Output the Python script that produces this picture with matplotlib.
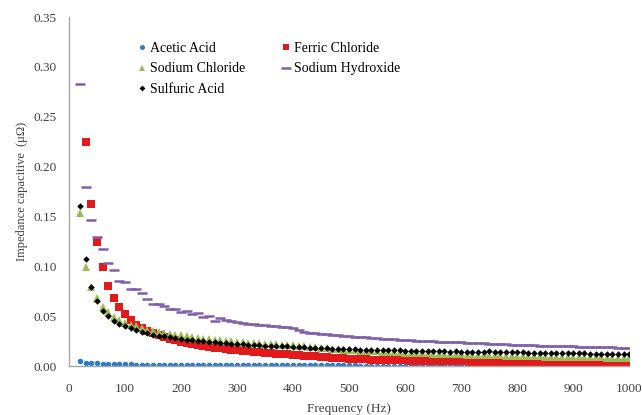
import numpy as np
import matplotlib.pyplot as plt

plt.rcParams['font.family'] = ['Liberation Serif', 'DejaVu Serif']

# frequency (Hz), 20..1000 every 10 Hz
freq = np.arange(20, 1001, 10)
freq_fc = np.arange(30, 1001, 10)  # ferric chloride starts at 30 Hz

acetic = [0.005, 0.003, 0.003, 0.003, 0.002, 0.002, 0.002, 0.0025, 0.0025, 0.0025,
          0.001, 0.001, 0.001, 0.001, 0.001, 0.001, 0.001, 0.001, 0.001, 0.001,
          0.001, 0.001, 0.001, 0.001, 0.001, 0.001, 0.001, 0.001, 0.001, 0.001,
          0.001, 0.001, 0.001, 0.001, 0.001, 0.001, 0.001, 0.001, 0.001, 0.001,
          0.001, 0.001, 0.001, 0.001, 0.001, 0.001, 0.001, 0.001, 0.001, 0.001,
          0.0005, 0.0005, 0.0005, 0.0005, 0.0005, 0.0005, 0.0005, 0.0005, 0.0005, 0.0005,
          0.0005, 0.0005, 0.0005, 0.0005, 0.0005, 0.0005, 0.0005, 0.0005, 0.0005, 0.0005,
          0.0005, 0.0005, 0.0005, 0.0005, 0.0005, 0.0005, 0.0005, 0.0005, 0.0005, 0.0005,
          0.0005, 0.0005, 0.0005, 0.0005, 0.0005, 0.0005, 0.0005, 0.0005, 0.0005, 0.0005,
          0.0005, 0.0005, 0.0005, 0.0005, 0.0005, 0.0005, 0.0005, 0.0005, 0.0005]

ferric = [0.225, 0.162, 0.124, 0.099, 0.080, 0.068, 0.059, 0.052, 0.046, 0.041,
          0.038, 0.035, 0.033, 0.031, 0.029, 0.027, 0.026, 0.024, 0.023, 0.022,
          0.021, 0.020, 0.019, 0.018, 0.018, 0.017, 0.016, 0.016, 0.015, 0.015,
          0.014, 0.014, 0.013, 0.013, 0.012, 0.012, 0.012, 0.011, 0.011, 0.010,
          0.010, 0.010, 0.009, 0.009, 0.008, 0.008, 0.008, 0.0075, 0.0072, 0.007,
          0.007, 0.0065, 0.0063, 0.006, 0.006, 0.006, 0.0058, 0.0056, 0.0055, 0.0055,
          0.0053, 0.0052, 0.005, 0.005, 0.005, 0.0049, 0.0048, 0.0047, 0.0046, 0.0045,
          0.0045, 0.0044, 0.0043, 0.0042, 0.0042, 0.0041, 0.004, 0.004, 0.004, 0.0039,
          0.0038, 0.0038, 0.0037, 0.0036, 0.0036, 0.0035, 0.0035, 0.0034, 0.0034, 0.0033,
          0.0033, 0.0032, 0.0032, 0.0031, 0.0031, 0.003, 0.003, 0.003]

sodium_chloride = [0.153, 0.099, 0.079, 0.068, 0.059, 0.054, 0.049, 0.046, 0.043, 0.041,
                   0.040, 0.038, 0.036, 0.035, 0.034, 0.033, 0.032, 0.031, 0.031, 0.030,
                   0.029, 0.028, 0.027, 0.027, 0.026, 0.026, 0.025, 0.025, 0.024, 0.024,
                   0.023, 0.023, 0.023, 0.022, 0.022, 0.022, 0.021, 0.021, 0.021, 0.020,
                   0.020, 0.019, 0.019, 0.018, 0.018, 0.017, 0.017, 0.016, 0.016, 0.016,
                   0.015, 0.015, 0.015, 0.015, 0.014, 0.014, 0.014, 0.014, 0.013, 0.013,
                   0.013, 0.013, 0.013, 0.012, 0.012, 0.012, 0.012, 0.012, 0.012, 0.011,
                   0.011, 0.011, 0.011, 0.011, 0.011, 0.011, 0.010, 0.010, 0.010, 0.010,
                   0.010, 0.010, 0.010, 0.0095, 0.0095, 0.0095, 0.009, 0.009, 0.009, 0.009,
                   0.009, 0.0088, 0.0088, 0.0086, 0.0085, 0.0084, 0.0083, 0.0082, 0.0082]

sodium_hydroxide = [0.283, 0.180, 0.146, 0.129, 0.117, 0.103, 0.096, 0.085, 0.084, 0.077,
                    0.077, 0.073, 0.067, 0.062, 0.062, 0.060, 0.057, 0.057, 0.054, 0.055,
                    0.052, 0.053, 0.049, 0.050, 0.045, 0.048, 0.046, 0.045, 0.044, 0.043,
                    0.042, 0.042, 0.041, 0.041, 0.040, 0.040, 0.039, 0.039, 0.038, 0.036,
                    0.034, 0.033, 0.033, 0.032, 0.032, 0.031, 0.031, 0.030, 0.030, 0.029,
                    0.029, 0.029, 0.028, 0.028, 0.027, 0.027, 0.027, 0.026, 0.026, 0.026,
                    0.025, 0.025, 0.025, 0.025, 0.024, 0.024, 0.024, 0.024, 0.024, 0.023,
                    0.023, 0.023, 0.023, 0.022, 0.022, 0.022, 0.022, 0.021, 0.021, 0.021,
                    0.021, 0.021, 0.020, 0.020, 0.020, 0.020, 0.020, 0.020, 0.020, 0.019,
                    0.019, 0.019, 0.019, 0.019, 0.019, 0.019, 0.018, 0.018, 0.018]

sulfuric = [0.160, 0.107, 0.079, 0.065, 0.055, 0.050, 0.045, 0.042, 0.040, 0.038,
            0.036, 0.034, 0.033, 0.031, 0.030, 0.030, 0.029, 0.028, 0.027, 0.026,
            0.026, 0.025, 0.025, 0.024, 0.024, 0.023, 0.023, 0.022, 0.022, 0.022,
            0.021, 0.021, 0.021, 0.020, 0.020, 0.020, 0.020, 0.020, 0.019, 0.019,
            0.019, 0.018, 0.018, 0.018, 0.018, 0.017, 0.017, 0.017, 0.017, 0.017,
            0.016, 0.016, 0.016, 0.016, 0.016, 0.016, 0.016, 0.016, 0.015, 0.015,
            0.015, 0.015, 0.015, 0.015, 0.015, 0.015, 0.014, 0.015, 0.014, 0.014,
            0.014, 0.014, 0.014, 0.015, 0.014, 0.014, 0.014, 0.014, 0.014, 0.014,
            0.013, 0.013, 0.013, 0.013, 0.013, 0.013, 0.013, 0.013, 0.013, 0.013,
            0.013, 0.012, 0.012, 0.012, 0.012, 0.012, 0.012, 0.012, 0.012]

fig = plt.figure(figsize=(6.42, 4.15), dpi=100)
ax = fig.add_axes([0.1075, 0.118, 0.8725, 0.841])

ax.plot(freq, acetic, 'o', color='#2e7bc4', ms=4, mew=0, label='Acetic Acid')
ax.plot(freq_fc, ferric, 's', color='#e21a1c', ms=5.5, mew=0, label='Ferric Chloride')
ax.plot(freq, sodium_chloride, '^', color='#9bbb59', ms=5.5, mew=0, label='Sodium Chloride')
ax.plot(freq, sodium_hydroxide, '_', color='#7f5fa8', ms=7.5, mew=1.8, label='Sodium Hydroxide')
ax.plot(freq, sulfuric, 'D', color='black', ms=3.3, mew=0, label='Sulfuric Acid')

ax.set_xlim(0, 1000)
ax.set_ylim(0, 0.35)
ax.set_xticks(range(0, 1001, 100))
ax.set_yticks(np.arange(0, 0.351, 0.05))
ax.set_yticklabels(['%.2f' % v for v in np.arange(0, 0.351, 0.05)])
ax.tick_params(length=0, labelsize=9.5, colors='#404040')
ax.tick_params(axis='x', pad=12)
ax.tick_params(axis='y', pad=9)
for s in ['top', 'right']:
    ax.spines[s].set_visible(False)
for s in ['left', 'bottom']:
    ax.spines[s].set_color('#a6a6a6')
    ax.spines[s].set_linewidth(1)

ax.set_xlabel('Frequency (Hz)', fontsize=9.5, color='#404040', labelpad=6)
ax.set_ylabel('Impedance capacitive  (\u03bc\u03a9)', fontsize=9, color='#404040', labelpad=4)

h, l = ax.get_legend_handles_labels()
order = [0, 2, 4, 1, 3]
ax.legend([h[i] for i in order], [l[i] for i in order], ncol=2, frameon=False,
          loc='upper left', bbox_to_anchor=(0.1, 0.965), fontsize=10,
          handlelength=0.6, handletextpad=0.3, columnspacing=2.6,
          labelspacing=0.55, markerscale=0.9)

fig.savefig('out.png', dpi=100)
